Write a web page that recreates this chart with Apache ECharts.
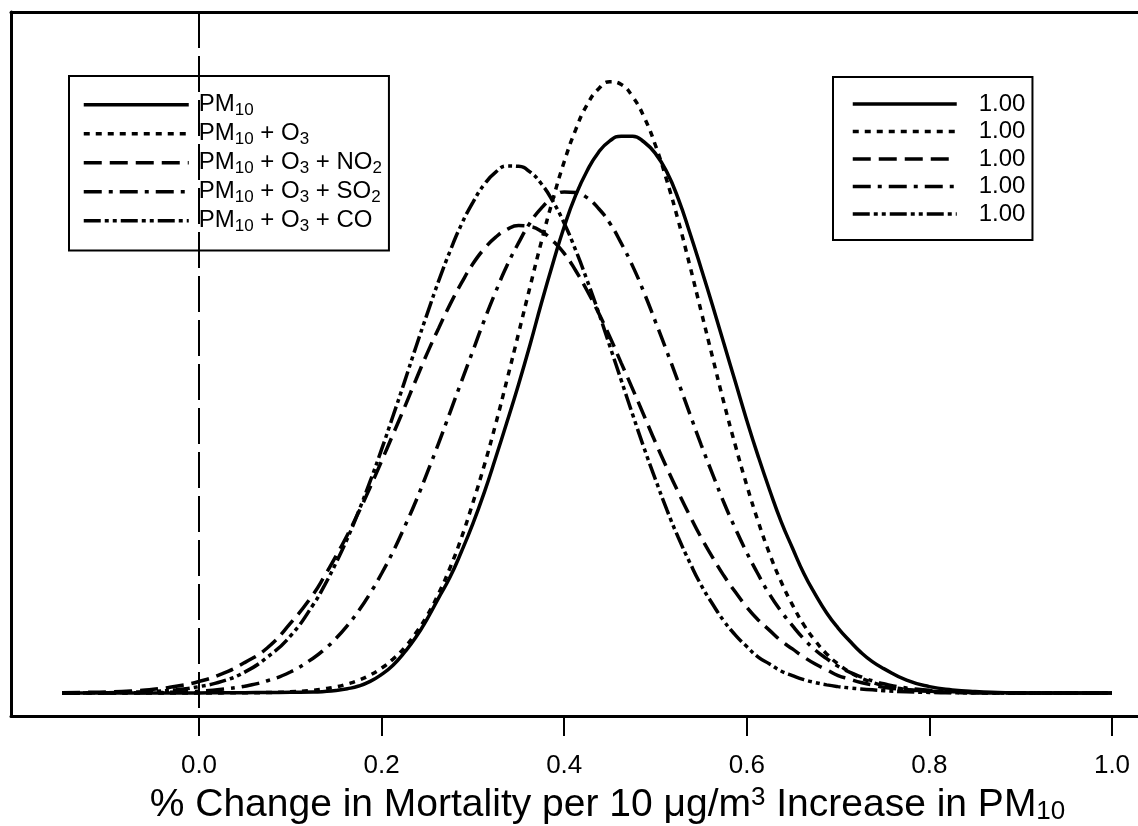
<!DOCTYPE html>
<html><head><meta charset="utf-8">
<script src="https://cdn.jsdelivr.net/npm/echarts@6/dist/echarts.min.js"></script>
<style>html,body{margin:0;padding:0;background:#fff}#c{width:1138px;height:826px}</style>
</head><body><div id="c"></div>
<script>
// x positions (% change) at which the densities were read
const xValues = [-0.15,-0.125,-0.1,-0.075,-0.05,-0.025,0,0.025,0.05,0.075,0.1,0.125,
  0.1375,0.15,0.1625,0.175,0.1875,0.2,0.2125,0.225,0.2375,0.25,0.2625,0.275,0.2875,0.3,0.3125,0.325,0.3375,0.35,0.3625,0.375,0.3875,0.4,0.4125,0.425,0.4375,0.45,0.4625,0.475,0.4875,0.5,0.5125,0.525,0.5375,0.55,0.5625,0.575,0.5875,0.6,0.6125,0.625,0.6375,0.65,0.6625,0.675,0.6875,0.7,0.7125,0.725,0.7375,0.75,
  0.775,0.8,0.825,0.85,0.875,0.9,0.925,0.95,0.975,1.0];
// density curves
const pm10 = [0,0,0,0,0,0,0.001,0.002,0.003,0.004,0.006,0.008,
  0.013,0.022,0.037,0.06,0.10,0.16,0.24,0.35,0.48,0.64,0.82,1.00,1.22,1.46,1.73,2.03,2.34,2.66,3.00,3.36,3.70,4.02,4.29,4.50,4.66,4.76,4.80,4.80,4.75,4.65,4.49,4.26,3.97,3.66,3.34,3.01,2.68,2.35,2.04,1.75,1.48,1.25,1.03,0.85,0.69,0.56,0.45,0.35,0.27,0.21,
  0.11,0.055,0.027,0.012,0.005,0.002,0,0,0,0];
const pm10O3 = [0,0,0,0,0,0,0,0.001,0.002,0.004,0.01,0.024,
  0.036,0.053,0.078,0.11,0.155,0.215,0.292,0.39,0.517,0.67,0.858,1.08,1.34,1.64,1.964,2.32,2.705,3.10,3.499,3.89,4.252,4.58,4.855,5.07,5.207,5.27,5.246,5.14,4.965,4.72,4.415,4.07,3.688,3.29,2.894,2.50,2.133,1.79,1.477,1.20,0.961,0.76,0.587,0.45,0.337,0.25,0.182,0.13,0.092,0.064,
  0.03,0.013,0.005,0.002,0,0,0,0,0,0];
const pm10O3NO2 = [0.002,0.005,0.009,0.017,0.032,0.058,0.099,0.164,0.262,0.39,0.60,0.85,
  1.008,1.18,1.362,1.56,1.774,2.00,2.229,2.46,2.698,2.93,3.145,3.35,3.535,3.70,3.83,3.93,3.997,4.03,4.022,3.98,3.898,3.79,3.642,3.47,3.279,3.07,2.844,2.62,2.39,2.16,1.94,1.73,1.53,1.34,1.17,1.01,0.87,0.74,0.63,0.54,0.45,0.38,0.31,0.25,0.20,0.15,0.12,0.09,0.07,0.05,
  0.03,0.015,0.008,0.004,0.002,0,0,0,0,0];
const pm10O3SO2 = [0,0,0.001,0.002,0.004,0.008,0.016,0.032,0.059,0.106,0.181,0.30,
  0.377,0.47,0.581,0.71,0.86,1.03,1.218,1.43,1.653,1.90,2.154,2.42,2.686,2.95,3.214,3.46,3.687,3.88,4.052,4.18,4.27,4.32,4.314,4.27,4.178,4.05,3.877,3.68,3.451,3.20,2.943,2.68,2.408,2.14,1.887,1.64,1.417,1.21,1.022,0.85,0.705,0.58,0.466,0.37,0.296,0.23,0.18,0.14,0.105,0.079,
  0.043,0.023,0.011,0.005,0.002,0,0,0,0,0];
const pm10O3CO = [0,0.001,0.003,0.007,0.014,0.028,0.055,0.10,0.18,0.31,0.49,0.76,
  0.928,1.12,1.332,1.57,1.826,2.10,2.388,2.68,2.981,3.27,3.552,3.81,4.04,4.23,4.385,4.49,4.543,4.54,4.492,4.39,4.24,4.05,3.819,3.56,3.284,2.99,2.695,2.40,2.111,1.84,1.578,1.34,1.126,0.93,0.767,0.62,0.499,0.40,0.309,0.25,0.19,0.15,0.115,0.09,0.07,0.055,0.044,0.035,0.027,0.02,
  0.01,0.005,0.002,0,0,0,0,0,0,0];

const seriesNames = ['PM10','PM10 + O3','PM10 + O3 + NO2','PM10 + O3 + SO2','PM10 + O3 + CO'];
const legendRich = ['{n|PM}{s|10}','{n|PM}{s|10}{n| + O}{s|3}','{n|PM}{s|10}{n| + O}{s|3}{n| + NO}{s|2}','{n|PM}{s|10}{n| + O}{s|3}{n| + SO}{s|2}','{n|PM}{s|10}{n| + O}{s|3}{n| + CO}'];
const areaLabels = ['1.00','1.00','1.00','1.00','1.00'];
const tickValues = [0,0.2,0.4,0.6,0.8,1.0];
const allY = [pm10, pm10O3, pm10O3NO2, pm10O3SO2, pm10O3CO];

const dashTypes = ['solid',[6,6],[18,8],[18,7,4,7],[17,4,4,4,4,4]];
const FONT = "'Liberation Sans', Arial, sans-serif";

const X_MIN = -0.20591, X_MAX = 1.02848, Y_MIN = -0.19828, Y_MAX = 5.87069;

const series = allY.map((ys, i) => ({
  name: seriesNames[i],
  type: 'line',
  data: xValues.map((x, j) => [x, ys[j]]),
  smooth: true,
  symbol: 'none',
  lineStyle: {color: '#000', width: 3.5, type: dashTypes[i]},
  itemStyle: {color: '#000'},
  emphasis: {disabled: true},
  z: 5 - i
}));
series[0].markLine = {
  silent: true, symbol: 'none', label: {show: false},
  lineStyle: {color: '#000', width: 2, type: [36, 8]},
  data: [[{coord: [0, Y_MAX]}, {coord: [0, Y_MIN]}]]
};

const legendCommon = {
  orient: 'vertical', itemGap: 0, itemHeight: 14,
  borderColor: '#000', borderWidth: 2, backgroundColor: '#fff', selectedMode: false,
  itemStyle: {color: 'rgba(0,0,0,0)', borderWidth: 0, opacity: 0},
  lineStyle: {width: 3.5, color: '#000'}
};

const chart = echarts.init(document.getElementById('c'), null, {renderer: 'canvas'});
chart.setOption({
  animation: false,
  backgroundColor: '#fff',
  textStyle: {fontFamily: FONT, color: '#000'},
  grid: {left: 11, top: 12, right: 0, bottom: 110, containLabel: false, outerBoundsMode: 'none'},
  xAxis: [{
    type: 'value', min: X_MIN, max: X_MAX, position: 'bottom',
    axisLine: {show: true, onZero: false, lineStyle: {color: '#000', width: 3}},
    axisTick: {show: true, length: 20, customValues: tickValues, lineStyle: {color: '#000', width: 2}},
    axisLabel: {show: true, customValues: tickValues, margin: 37, fontSize: 26, fontFamily: FONT, color: '#000',
      formatter: v => v.toFixed(1)},
    splitLine: {show: false},
    name: '{n|% Change in Mortality per 10 μg/m}{sup|3}{n| Increase in PM}{sub|10}',
    nameLocation: 'middle', nameGap: 67,
    nameTextStyle: {padding: [0, 0, 0, 66], fontFamily: FONT, color: '#000',
      rich: {
        n: {fontSize: 39, lineHeight: 44, fontFamily: FONT, color: '#000'},
        sup: {fontSize: 26, lineHeight: 30, padding: [0, 0, 14, 0], fontFamily: FONT, color: '#000'},
        sub: {fontSize: 26, lineHeight: 30, padding: [14, 0, 0, 0], fontFamily: FONT, color: '#000'}
      }}
  }, {
    type: 'value', min: X_MIN, max: X_MAX, position: 'top',
    axisLine: {show: true, onZero: false, lineStyle: {color: '#000', width: 3}},
    axisTick: {show: false}, axisLabel: {show: false}, splitLine: {show: false}
  }],
  yAxis: {
    type: 'value', min: Y_MIN, max: Y_MAX,
    axisLine: {show: true, onZero: false, lineStyle: {color: '#000', width: 3}},
    axisTick: {show: false}, axisLabel: {show: false}, splitLine: {show: false}
  },
  legend: [Object.assign({}, legendCommon, {
    data: seriesNames, left: 69, top: 76,
    padding: [14.25, 7, 15.25, 13], itemWidth: 105,
    formatter: name => legendRich[seriesNames.indexOf(name)],
    textStyle: {padding: [0, 0, 0, 5], color: '#000', fontFamily: FONT,
      rich: {
        n: {fontSize: 24, lineHeight: 27.5, fontFamily: FONT, color: '#000'},
        s: {fontSize: 17, lineHeight: 15.5, padding: [12, 0, 0, 0], fontFamily: FONT, color: '#000'}
      }}
  }), Object.assign({}, legendCommon, {
    data: seriesNames, left: 833, top: 77,
    padding: [13.25, 7, 12.25, 18], itemWidth: 104,
    formatter: name => areaLabels[seriesNames.indexOf(name)],
    textStyle: {padding: [0, 0, 0, 17], fontSize: 24, lineHeight: 27.5, color: '#000', fontFamily: FONT}
  })],
  series: series
});
</script></body></html>
